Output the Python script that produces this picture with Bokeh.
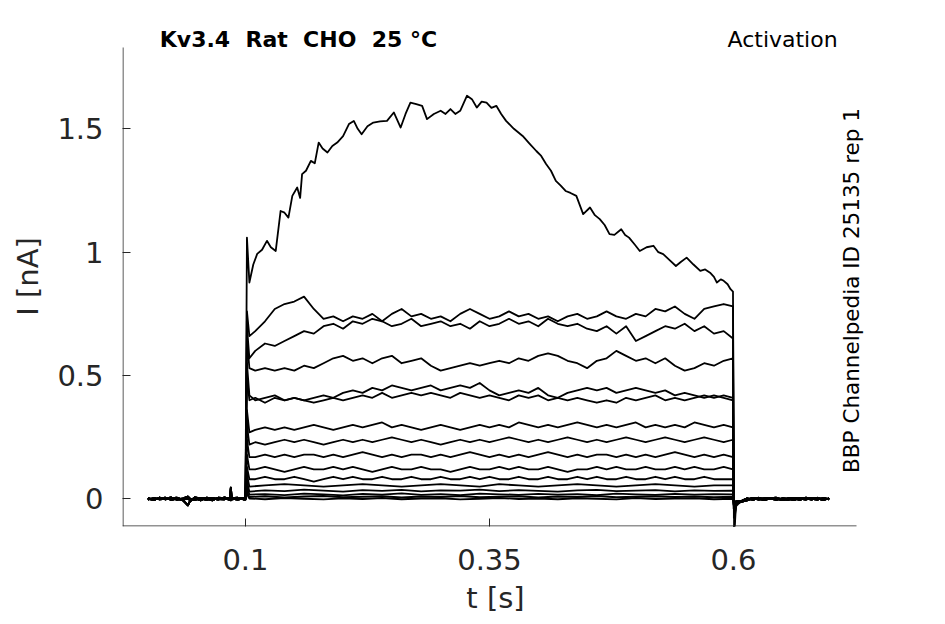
import math
from bokeh.plotting import figure
from bokeh.models import Range1d, FixedTicker, Label, BoxAnnotation
from bokeh.embed import file_html
from bokeh.resources import INLINE

# ---------------- data ----------------
# pre-step baseline sample times [s]
PRE_T = [0.000, 0.006, 0.012, 0.018, 0.024, 0.030, 0.036, 0.041, 0.043, 0.048,
         0.054, 0.060, 0.066, 0.072, 0.078, 0.084, 0.085, 0.086, 0.092, 0.098]
BASE_PRE_1 = [0.004, -0.003, 0.002, 0.005, -0.004, 0.001, -0.006, -0.026, -0.010, 0.006,
              0.002, -0.004, 0.003, 0.000, -0.002, 0.004, 0.046, 0.001, -0.003, 0.002]
BASE_PRE_2 = [-0.003, 0.004, -0.002, 0.001, 0.006, -0.004, 0.003, 0.010, 0.002, -0.005,
              0.004, 0.001, -0.006, 0.005, 0.003, -0.004, 0.000, 0.003, 0.005, -0.002]
BASE_PRE_3 = [0.001, -0.005, 0.006, -0.002, 0.003, 0.005, -0.003, 0.001, -0.004, 0.003,
              -0.006, 0.005, 0.002, -0.003, 0.006, 0.001, -0.005, -0.002, 0.002, 0.004]

# post-step baseline sample times [s]
POST_T = [0.608, 0.614, 0.620, 0.626, 0.632, 0.638, 0.644, 0.650,
          0.656, 0.662, 0.668, 0.674, 0.680, 0.686, 0.692, 0.698]
BASE_POST_1 = [-0.012, -0.006, 0.002, -0.003, 0.004, 0.001, -0.004, 0.003,
               0.000, -0.005, 0.004, 0.002, -0.003, 0.005, -0.002, 0.001]
BASE_POST_2 = [-0.008, 0.003, -0.004, 0.005, -0.002, 0.004, 0.001, -0.005,
               0.003, 0.002, -0.004, 0.005, 0.000, -0.003, 0.004, -0.002]
BASE_POST_3 = [-0.010, -0.002, 0.004, 0.000, -0.005, 0.003, 0.005, -0.002,
               -0.004, 0.004, 0.001, -0.003, 0.004, 0.002, -0.005, 0.003]

# largest trace during the step
BIG_T = [0.104, 0.108, 0.112, 0.117, 0.122, 0.126, 0.131, 0.136, 0.140, 0.144,
         0.148, 0.153, 0.156, 0.158, 0.162, 0.167, 0.171, 0.175, 0.179, 0.184,
         0.189, 0.194, 0.200, 0.206, 0.211, 0.215, 0.219, 0.225, 0.231, 0.238,
         0.245, 0.252, 0.259, 0.264, 0.269, 0.275, 0.281, 0.286, 0.293, 0.300,
         0.305, 0.310, 0.315, 0.320, 0.327, 0.332, 0.337, 0.342, 0.347, 0.352,
         0.357, 0.362, 0.367, 0.375, 0.384, 0.391, 0.398, 0.403, 0.408, 0.413,
         0.418, 0.423, 0.428, 0.433, 0.439, 0.446, 0.453, 0.458, 0.463, 0.468,
         0.473, 0.478, 0.485, 0.489, 0.493, 0.499, 0.504, 0.511, 0.518, 0.523,
         0.528, 0.534, 0.541, 0.546, 0.552, 0.559, 0.566, 0.571, 0.576, 0.580,
         0.583, 0.587, 0.590, 0.594, 0.597, 0.5995]
BIG_I = [0.877, 0.950, 0.993, 1.010, 1.046, 1.020, 1.005, 1.167, 1.160, 1.140,
         1.228, 1.262, 1.220, 1.316, 1.330, 1.370, 1.360, 1.444, 1.420, 1.404,
         1.430, 1.444, 1.470, 1.519, 1.532, 1.500, 1.478, 1.510, 1.525, 1.530,
         1.532, 1.566, 1.505, 1.560, 1.606, 1.600, 1.593, 1.539, 1.560, 1.573,
         1.560, 1.580, 1.560, 1.573, 1.634, 1.620, 1.586, 1.610, 1.606, 1.585,
         1.593, 1.560, 1.532, 1.500, 1.471, 1.440, 1.410, 1.390, 1.357, 1.330,
         1.289, 1.270, 1.248, 1.240, 1.228, 1.154, 1.181, 1.150, 1.134, 1.110,
         1.073, 1.070, 1.093, 1.070, 1.059, 1.030, 1.005, 1.020, 1.026, 1.000,
         0.992, 0.970, 0.944, 0.960, 0.978, 0.950, 0.924, 0.930, 0.917, 0.900,
         0.877, 0.890, 0.884, 0.870, 0.850, 0.840]

# medium traces: sampled at 0.104, 0.11 ... 0.59, 0.5995
STEP_T = [0.104] + [round(0.11 + 0.01 * k, 3) for k in range(49)] + [0.5995]
TR_B = [0.66, 0.68, 0.72, 0.77, 0.79, 0.80, 0.82, 0.77, 0.73, 0.74, 0.72, 0.74, 0.73,
        0.75, 0.72, 0.75, 0.77, 0.74, 0.75, 0.73, 0.74, 0.72, 0.75, 0.77, 0.75, 0.73,
        0.74, 0.76, 0.74, 0.75, 0.73, 0.74, 0.72, 0.74, 0.75, 0.73, 0.74, 0.76, 0.74,
        0.73, 0.75, 0.74, 0.77, 0.76, 0.78, 0.75, 0.73, 0.77, 0.78, 0.79, 0.78]
TR_C = [0.57, 0.60, 0.63, 0.62, 0.64, 0.66, 0.68, 0.67, 0.70, 0.71, 0.69, 0.72, 0.71,
        0.73, 0.72, 0.70, 0.71, 0.73, 0.70, 0.71, 0.72, 0.70, 0.71, 0.69, 0.72, 0.70,
        0.71, 0.73, 0.71, 0.72, 0.70, 0.73, 0.71, 0.70, 0.71, 0.69, 0.68, 0.70, 0.67,
        0.70, 0.64, 0.66, 0.68, 0.70, 0.69, 0.71, 0.68, 0.70, 0.67, 0.68, 0.65]
TR_D = [0.53, 0.52, 0.53, 0.52, 0.53, 0.52, 0.54, 0.53, 0.55, 0.57, 0.58, 0.56, 0.57,
        0.55, 0.57, 0.58, 0.55, 0.56, 0.57, 0.54, 0.52, 0.53, 0.54, 0.55, 0.54, 0.55,
        0.56, 0.55, 0.57, 0.56, 0.58, 0.59, 0.58, 0.56, 0.55, 0.53, 0.56, 0.57, 0.60,
        0.58, 0.56, 0.57, 0.55, 0.57, 0.54, 0.52, 0.53, 0.55, 0.54, 0.56, 0.57]
TR_E = [0.42, 0.40, 0.41, 0.42, 0.40, 0.41, 0.40, 0.41, 0.42, 0.41, 0.43, 0.44, 0.43,
        0.45, 0.44, 0.46, 0.45, 0.44, 0.45, 0.46, 0.44, 0.45, 0.46, 0.45, 0.47, 0.44,
        0.42, 0.43, 0.44, 0.43, 0.45, 0.42, 0.41, 0.43, 0.44, 0.45, 0.44, 0.45, 0.43,
        0.44, 0.45, 0.44, 0.43, 0.44, 0.42, 0.43, 0.42, 0.41, 0.42, 0.41, 0.40]
TR_F = [0.40, 0.41, 0.39, 0.41, 0.40, 0.41, 0.40, 0.39, 0.40, 0.41, 0.40, 0.41, 0.42,
        0.41, 0.43, 0.41, 0.42, 0.43, 0.42, 0.43, 0.42, 0.41, 0.43, 0.42, 0.41, 0.42,
        0.41, 0.40, 0.42, 0.41, 0.42, 0.40, 0.41, 0.40, 0.41, 0.40, 0.39, 0.40, 0.39,
        0.41, 0.40, 0.41, 0.42, 0.40, 0.41, 0.40, 0.41, 0.42, 0.41, 0.42, 0.41]
TR_G = [0.27, 0.28, 0.29, 0.28, 0.29, 0.28, 0.29, 0.30, 0.29, 0.28,
        0.29, 0.30, 0.29, 0.30, 0.31, 0.29, 0.30, 0.29, 0.28, 0.29,
        0.30, 0.29, 0.28, 0.29, 0.30, 0.29, 0.30, 0.29, 0.31, 0.30,
        0.29, 0.30, 0.29, 0.30, 0.31, 0.30, 0.29, 0.30, 0.29, 0.30,
        0.31, 0.29, 0.30, 0.29, 0.30, 0.29, 0.31, 0.30, 0.29, 0.30, 0.29]
TR_H = [0.22, 0.23, 0.22, 0.23, 0.24, 0.23, 0.24, 0.23, 0.22, 0.23,
        0.24, 0.23, 0.24, 0.23, 0.24, 0.25, 0.24, 0.23, 0.24, 0.23,
        0.22, 0.23, 0.24, 0.23, 0.24, 0.23, 0.24, 0.25, 0.24, 0.23,
        0.24, 0.23, 0.24, 0.25, 0.24, 0.23, 0.24, 0.23, 0.24, 0.25,
        0.24, 0.23, 0.24, 0.25, 0.24, 0.23, 0.24, 0.25, 0.24, 0.23, 0.24]
TR_I = [0.17, 0.17, 0.18, 0.17, 0.18, 0.17, 0.18, 0.18, 0.17, 0.18,
        0.17, 0.18, 0.19, 0.18, 0.17, 0.18, 0.17, 0.18, 0.18, 0.17,
        0.18, 0.17, 0.18, 0.19, 0.18, 0.17, 0.18, 0.17, 0.18, 0.17,
        0.18, 0.19, 0.18, 0.17, 0.18, 0.17, 0.18, 0.18, 0.17, 0.18,
        0.17, 0.18, 0.17, 0.18, 0.19, 0.18, 0.17, 0.18, 0.17, 0.18, 0.17]
TR_J = [0.12, 0.12, 0.13, 0.12, 0.11, 0.12, 0.13, 0.12, 0.12, 0.13,
        0.12, 0.13, 0.12, 0.11, 0.12, 0.13, 0.12, 0.12, 0.13, 0.12,
        0.12, 0.11, 0.12, 0.13, 0.12, 0.12, 0.13, 0.12, 0.13, 0.12,
        0.12, 0.13, 0.12, 0.11, 0.12, 0.12, 0.13, 0.12, 0.13, 0.12,
        0.12, 0.13, 0.12, 0.12, 0.13, 0.12, 0.13, 0.12, 0.12, 0.13, 0.12]
TR_K = [0.08, 0.08, 0.09, 0.08, 0.08, 0.09, 0.08, 0.07, 0.08, 0.09,
        0.08, 0.09, 0.08, 0.08, 0.09, 0.08, 0.08, 0.09, 0.08, 0.08,
        0.09, 0.08, 0.08, 0.09, 0.08, 0.09, 0.08, 0.08, 0.09, 0.08,
        0.08, 0.09, 0.08, 0.08, 0.09, 0.08, 0.09, 0.08, 0.08, 0.09,
        0.08, 0.08, 0.09, 0.08, 0.09, 0.08, 0.08, 0.09, 0.08, 0.08, 0.08]

# smallest traces: sampled at 0.104, 0.12 ... 0.58, 0.5995
STEP_T2 = [0.104] + [round(0.12 + 0.02 * k, 3) for k in range(24)] + [0.5995]
TR_L = [0.050, 0.055, 0.060, 0.055, 0.050, 0.055, 0.060, 0.055, 0.050, 0.055, 0.060, 0.055, 0.050,
        0.060, 0.055, 0.050, 0.055, 0.060, 0.055, 0.050, 0.055, 0.060, 0.055, 0.050, 0.055, 0.055]
TR_M = [0.030, 0.035, 0.032, 0.038, 0.034, 0.030, 0.036, 0.033, 0.037, 0.031, 0.035, 0.034, 0.038,
        0.032, 0.036, 0.033, 0.030, 0.035, 0.037, 0.032, 0.034, 0.036, 0.031, 0.035, 0.033, 0.034]
TR_N = [0.018, 0.020, 0.016, 0.022, 0.019, 0.015, 0.021, 0.018, 0.023, 0.017, 0.020, 0.016, 0.022,
        0.019, 0.017, 0.021, 0.018, 0.020, 0.016, 0.022, 0.019, 0.017, 0.021, 0.018, 0.020, 0.019]
TR_O = [0.008, 0.011, 0.006, 0.010, 0.012, 0.007, 0.009, 0.011, 0.006, 0.010, 0.008, 0.012, 0.007,
        0.009, 0.011, 0.006, 0.010, 0.008, 0.012, 0.007, 0.009, 0.011, 0.008, 0.010, 0.007, 0.009]
TR_P = [0.002, -0.001, 0.004, 0.001, -0.002, 0.003, 0.000, 0.004, -0.001, 0.002, 0.003, -0.002, 0.001,
        0.004, 0.000, 0.002, -0.001, 0.003, 0.001, -0.002, 0.004, 0.000, 0.002, 0.003, -0.001, 0.001]

# onset spike (t=0.1015) and offset drop (t=0.6005) / tail (t=0.6025) per trace
ONSET_SPIKE = [1.059, 0.76, 0.70, 0.65, 0.55, 0.50, 0.36, 0.30, 0.24, 0.18, 0.13, 0.10, 0.07, 0.05, 0.03, 0.02]
OFF_DROP = [-0.17, -0.12, -0.11, -0.10, -0.09, -0.09, -0.07, -0.06, -0.05, -0.04, -0.03, -0.03, -0.03, -0.03, -0.03, -0.03]
OFF_TAIL = [-0.03, -0.02, -0.02, -0.02, -0.02, -0.02, -0.02, -0.02, -0.015, -0.015, -0.01, -0.01, -0.01, -0.01, -0.01, -0.01]

X_TICKS = [0.1, 0.35, 0.6]
X_TICK_LABELS = ["0.1", "0.35", "0.6"]
Y_TICKS = [0, 0.5, 1, 1.5]
Y_TICK_LABELS = ["0", "0.5", "1", "1.5"]

# ---------------- figure ----------------
FONT = "DejaVu Sans"
INK = "#262626"

# the frame also holds the title line and the right-hand note (axes drawn to data area)
FRAME_W, FRAME_H = 746, 500
AXES_W, AXES_H = 734, 479
p = figure(frame_width=FRAME_W, frame_height=FRAME_H,
           x_range=Range1d(-0.026, -0.026 + FRAME_W / 976.0),
           y_range=Range1d(-0.1115, -0.1115 + FRAME_H / 246.8),
           output_backend="svg", toolbar_location=None,
           min_border_left=122, min_border_right=72,
           min_border_top=26, min_border_bottom=94)
p.outline_line_color = None
p.grid.visible = False
p.background_fill_color = "white"
p.border_fill_color = "white"

step_sets = [(BIG_T, BIG_I), (STEP_T, TR_B), (STEP_T, TR_C), (STEP_T, TR_D),
             (STEP_T, TR_E), (STEP_T, TR_F), (STEP_T, TR_G), (STEP_T, TR_H),
             (STEP_T, TR_I), (STEP_T, TR_J), (STEP_T, TR_K), (STEP_T2, TR_L),
             (STEP_T2, TR_M), (STEP_T2, TR_N), (STEP_T2, TR_O), (STEP_T2, TR_P)]
pres = [BASE_PRE_1, BASE_PRE_2, BASE_PRE_3]
posts = [BASE_POST_1, BASE_POST_2, BASE_POST_3]

for k, (st, si) in enumerate(step_sets):
    pre = pres[k % 3]
    post = posts[(k + 1) % 3]
    t = PRE_T + [0.1, 0.1015] + list(st) + [0.6005, 0.6025] + POST_T
    y = pre + [pre[-1], ONSET_SPIKE[k]] + list(si) + [OFF_DROP[k], OFF_TAIL[k]] + post
    p.line(t, y, line_color="black", line_width=1.8, line_join="round")

for ax in (p.xaxis[0], p.yaxis[0]):
    ax.axis_line_color = None
    ax.major_tick_line_color = INK
    ax.major_tick_line_width = 1
    ax.major_tick_in = 8
    ax.major_tick_out = 0
    ax.minor_tick_line_color = None
    ax.major_label_text_font = FONT
    ax.major_label_text_font_size = "29px"
    ax.major_label_text_color = INK
    ax.axis_label_text_font = FONT
    ax.axis_label_text_font_size = "29px"
    ax.axis_label_text_font_style = "normal"
    ax.axis_label_text_color = INK

p.xaxis.ticker = FixedTicker(ticks=X_TICKS)
p.xaxis.major_label_overrides = dict(zip(X_TICKS, X_TICK_LABELS))
p.yaxis.ticker = FixedTicker(ticks=Y_TICKS)
p.yaxis.major_label_overrides = dict(zip(Y_TICKS, Y_TICK_LABELS))
p.xaxis.axis_label = "t [s]"
p.yaxis.axis_label = "I [nA]"
p.xaxis.major_label_standoff = 22
p.yaxis.major_label_standoff = 19
p.xaxis.axis_label_standoff = 8
p.yaxis.axis_label_standoff = 9

# axis lines limited to the data area (box off, like the original)
p.add_layout(BoxAnnotation(left=0, right=1, bottom=0, top=AXES_H,
                           left_units="screen", right_units="screen",
                           bottom_units="screen", top_units="screen",
                           fill_color=INK, fill_alpha=1, line_color=None))
p.add_layout(BoxAnnotation(left=0, right=AXES_W, bottom=0, top=1,
                           left_units="screen", right_units="screen",
                           bottom_units="screen", top_units="screen",
                           fill_color=INK, fill_alpha=1, line_color=None))

# title pieces (frame-relative screen coordinates, y from frame bottom)
for txt, xs in [("Kv3.4", 37.3), ("Rat", 123), ("CHO", 180.6), ("25 °C", 249.2)]:
    p.add_layout(Label(x=xs, y=487, x_units="screen", y_units="screen", text=txt,
                       text_font=FONT, text_font_size="22px", text_font_style="bold",
                       text_color="black", text_align="left", text_baseline="alphabetic"))
p.add_layout(Label(x=605, y=487.5, x_units="screen", y_units="screen", text="Activation",
                   text_font=FONT, text_font_size="22px", text_color="black",
                   text_align="left", text_baseline="alphabetic"))
p.add_layout(Label(x=729, y=236, x_units="screen", y_units="screen",
                   text="BBP Channelpedia ID 25135 rep 1", angle=math.pi / 2,
                   text_font=FONT, text_font_size="21.5px", text_color="black",
                   text_align="center", text_baseline="alphabetic"))

open("out.html", "w").write(file_html(p, INLINE))
